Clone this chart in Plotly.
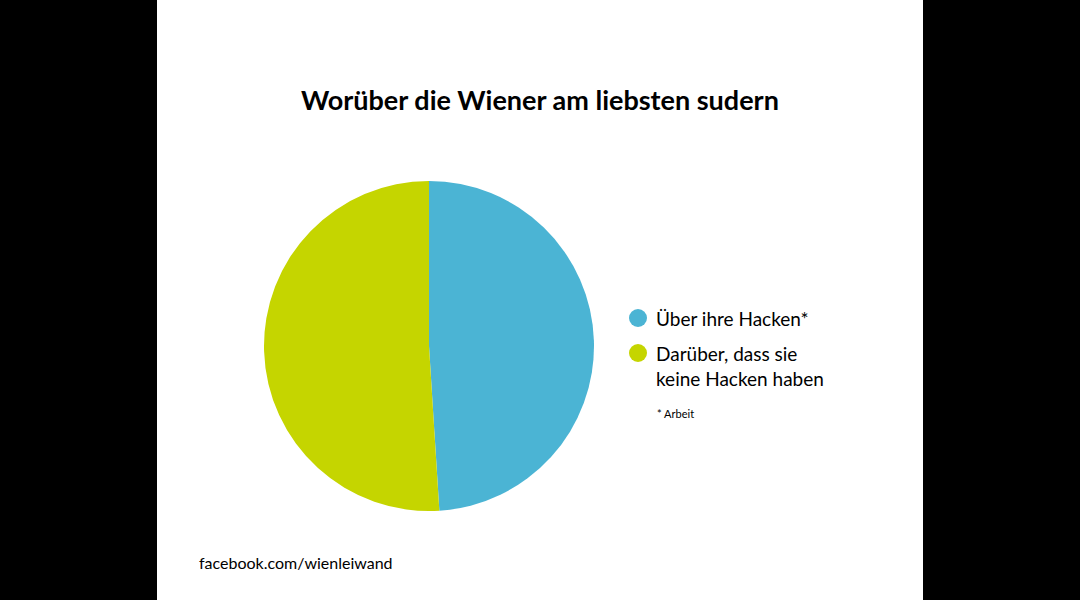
import plotly.graph_objects as go

title = "Worüber die Wiener am liebsten sudern"
labels = ["Über ihre Hacken*", "Darüber, dass sie<br>keine Hacken haben"]
values = [49, 51]
colors = ["#4BB4D4", "#C5D500"]
footnote = "* Arbeit"
source = "facebook.com/wienleiwand"

W, H = 1080, 600
FONT = "Lato"

def px(x):
    return x / W

def py(y):
    return 1 - y / H

fig = go.Figure()
fig.add_trace(go.Pie(
    labels=labels, values=values, sort=False, direction="clockwise", rotation=0,
    marker=dict(colors=colors, line=dict(width=0)), textinfo="none", hoverinfo="label+percent",
    showlegend=False,
    domain=dict(x=[px(264), px(594)], y=[py(511), py(181)]),
))

shapes = [
    dict(type="rect", xref="paper", yref="paper", x0=0, x1=px(157), y0=0, y1=1,
         fillcolor="black", line=dict(width=0)),
    dict(type="rect", xref="paper", yref="paper", x0=px(923), x1=1, y0=0, y1=1,
         fillcolor="black", line=dict(width=0)),
]
annotations = [
    dict(text="<b>" + title + "</b>", x=px(540), y=py(99), xref="paper", yref="paper",
         showarrow=False, font=dict(family=FONT, size=27, color="black"), xanchor="center", yanchor="middle"),
    dict(text=source, x=px(197), y=py(562), xref="paper", yref="paper", showarrow=False,
         font=dict(family=FONT, size=16, color="black"), xanchor="left", yanchor="middle"),
    dict(text=footnote, x=px(655), y=py(414), xref="paper", yref="paper", showarrow=False,
         font=dict(family=FONT, size=11, color="black"), xanchor="left", yanchor="middle"),
]
legend_y = [318, 353]
for lab, col, yy in zip(labels, colors, legend_y):
    r = 9
    shapes.append(dict(type="circle", xref="paper", yref="paper",
                       x0=px(638 - r), x1=px(638 + r), y0=py(yy + r), y1=py(yy - r),
                       fillcolor=col, line=dict(width=0)))
    annotations.append(dict(text=lab, x=px(654), y=py(yy - 13), xref="paper", yref="paper",
                            showarrow=False, align="left", xanchor="left", yanchor="top",
                            font=dict(family=FONT, size=19, color="black")))

fig.update_layout(
    width=W, height=H, margin=dict(l=0, r=0, t=0, b=0),
    paper_bgcolor="white", plot_bgcolor="white",
    shapes=shapes, annotations=annotations,
)
fig.write_html("out.html", config={"displayModeBar": False},
               post_script="document.body.style.margin='0';document.body.style.overflow='hidden';")
